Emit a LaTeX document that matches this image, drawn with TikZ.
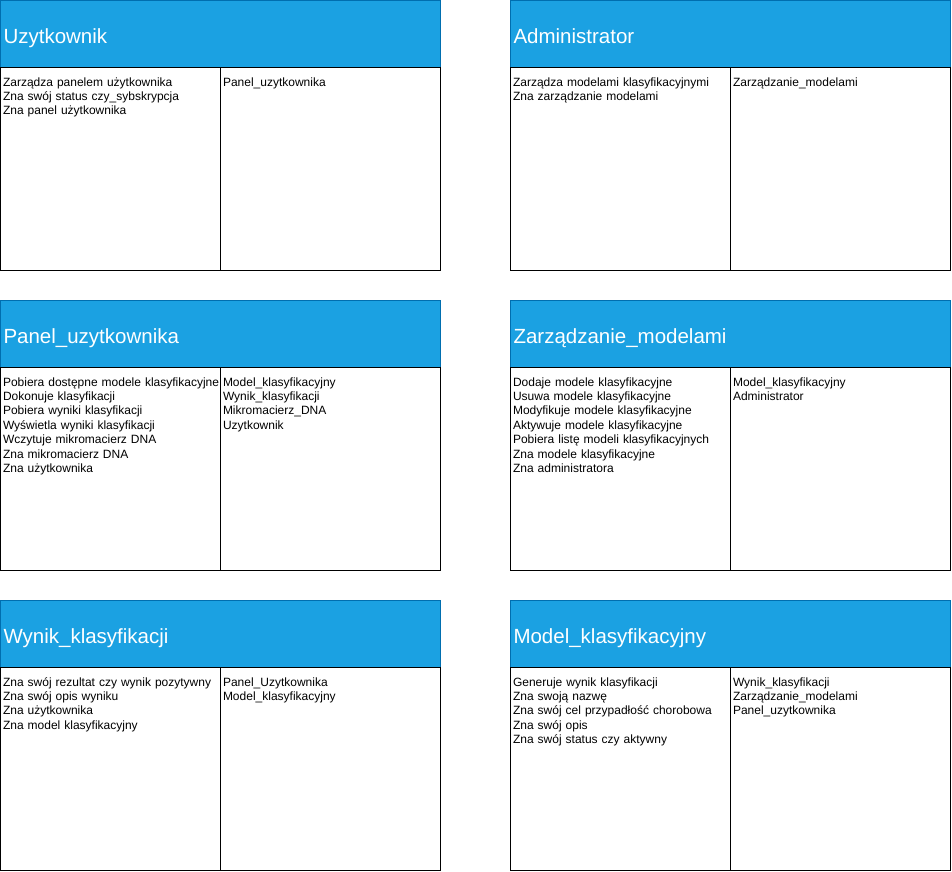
\documentclass[tikz,border=0pt]{standalone}
\usepackage{fontspec}
\setmainfont{Liberation Sans}
\usetikzlibrary{positioning}
\definecolor{headblue}{HTML}{1BA1E2}
\definecolor{headline}{HTML}{006EAF}
\tikzset{
  crchead/.style={draw=headline, fill=headblue, text=white, anchor=north west,
    minimum width=440pt, minimum height=67pt, text width=434pt, inner xsep=3pt,
    text height=21pt, text depth=2pt,
    outer sep=0pt, align=left, font=\fontsize{20.5}{24}\selectfont},
  crccell/.style={draw=black, anchor=north west, minimum width=220pt,
    minimum height=203pt, inner sep=0pt, outer sep=0pt},
  crctext/.style={anchor=north west, inner sep=0pt, text width=240pt, align=left,
    font=\fontsize{12}{14.4}\selectfont, xshift=2pt, yshift=-8pt},
}
% one CRC card: name, x, y, title, responsibilities, collaborators
\newcommand{\crccard}[6]{%
  \node[crchead] (#1) at (#2,#3) {#4};
  \node[crccell] (#1-r) at (#1.south west) {};
  \node[crccell] (#1-c) at (#1-r.north east) {};
  \node[crctext] (#1-rt) at (#1-r.north west) {\rule{0pt}{10pt}#5};
  \node[crctext] (#1-ct) at (#1-c.north west) {\rule{0pt}{10pt}#6};
}

\begin{document}
\begin{tikzpicture}[x=1pt,y=-1pt,line width=1pt]
  \useasboundingbox (0,0) rectangle (952,871);

  \crccard{uzyt}{0.5}{0.5}{Uzytkownik}
    {Zarządza panelem użytkownika\\Zna swój status czy\_sybskrypcja\\Zna panel użytkownika}
    {Panel\_uzytkownika}
  \crccard{admin}{510.5}{0.5}{Administrator}
    {Zarządza modelami klasyfikacyjnymi\\Zna zarządzanie modelami}
    {Zarządzanie\_modelami}

  \crccard{panel}{0.5}{300.5}{Panel\_uzytkownika}
    {Pobiera dostępne modele klasyfikacyjne\\Dokonuje klasyfikacji\\Pobiera wyniki klasyfikacji\\Wyświetla wyniki klasyfikacji\\Wczytuje mikromacierz DNA\\Zna mikromacierz DNA\\Zna użytkownika}
    {Model\_klasyfikacyjny\\Wynik\_klasyfikacji\\Mikromacierz\_DNA\\Uzytkownik}
  \crccard{zarzad}{510.5}{300.5}{Zarządzanie\_modelami}
    {Dodaje modele klasyfikacyjne\\Usuwa modele klasyfikacyjne\\Modyfikuje modele klasyfikacyjne\\Aktywuje modele klasyfikacyjne\\Pobiera listę modeli klasyfikacyjnych\\Zna modele klasyfikacyjne\\Zna administratora}
    {Model\_klasyfikacyjny\\Administrator}

  \crccard{wynik}{0.5}{600.5}{Wynik\_klasyfikacji}
    {Zna swój rezultat czy wynik pozytywny\\Zna swój opis wyniku\\Zna użytkownika\\Zna model klasyfikacyjny}
    {Panel\_Uzytkownika\\Model\_klasyfikacyjny}
  \crccard{model}{510.5}{600.5}{Model\_klasyfikacyjny}
    {Generuje wynik klasyfikacji\\Zna swoją nazwę\\Zna swój cel przypadłość chorobowa\\Zna swój opis\\Zna swój status czy aktywny}
    {Wynik\_klasyfikacji\\Zarządzanie\_modelami\\Panel\_uzytkownika}
\end{tikzpicture}
\end{document}
